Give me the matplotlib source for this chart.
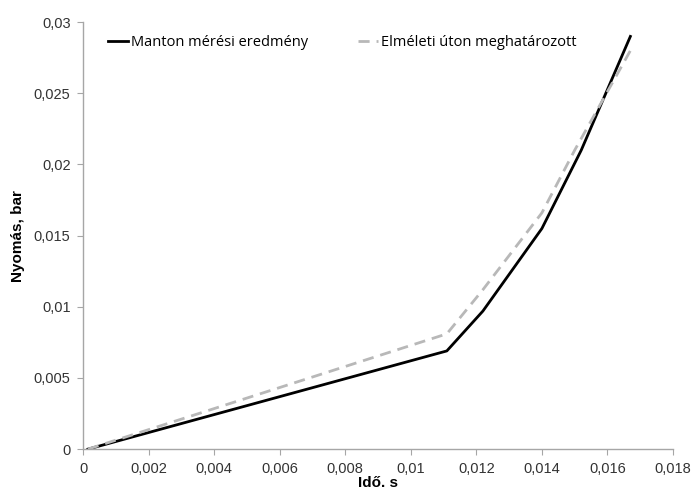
import matplotlib.pyplot as plt
from matplotlib.ticker import FuncFormatter, MultipleLocator

# Measured (Manton) curve
t_meas = [0.00015, 0.0111, 0.0122, 0.0140, 0.0152, 0.0167]
p_meas = [0.0, 0.0069, 0.0097, 0.0155, 0.0210, 0.0290]

# Theoretical curve
t_theo = [0.00015, 0.0111, 0.0122, 0.0140, 0.0150, 0.0167]
p_theo = [0.0, 0.0081, 0.0112, 0.0166, 0.0210, 0.0280]

x_ticks_step = 0.002
y_ticks_step = 0.005

fig = plt.figure(figsize=(6.92, 4.93), dpi=100)
ax = fig.add_axes([0.12, 0.089, 0.8525, 0.866])

ax.plot(t_meas, p_meas, color='black', linewidth=2, label='Manton mérési eredmény')
ax.plot(t_theo, p_theo, color='#b8b8b8', linewidth=2, linestyle=(0, (4, 2.5)),
        label='Elméleti úton meghatározott')

ax.set_xlim(0, 0.018)
ax.set_ylim(0, 0.03)
ax.xaxis.set_major_locator(MultipleLocator(x_ticks_step))
ax.yaxis.set_major_locator(MultipleLocator(y_ticks_step))

fmt = FuncFormatter(lambda v, pos: ('%g' % round(v, 6)).replace('.', ','))
ax.xaxis.set_major_formatter(fmt)
ax.yaxis.set_major_formatter(fmt)

for side in ['top', 'right']:
    ax.spines[side].set_visible(False)
for side in ['left', 'bottom']:
    ax.spines[side].set_color('#a6a6a6')
    ax.spines[side].set_linewidth(1)

ax.tick_params(direction='out', length=4, color='#a6a6a6', labelsize=10.5,
               labelcolor='#333333', pad=5)
for lbl in ax.get_xticklabels() + ax.get_yticklabels():
    lbl.set_family('Liberation Sans')

ax.set_xlabel('Idő. s', fontsize=11, fontweight='bold', family='Liberation Sans', labelpad=0)
ax.set_ylabel('Nyomás, bar', fontsize=11, fontweight='bold', family='Liberation Sans', labelpad=6)

leg = ax.legend(loc='upper left', ncol=2, frameon=False,
                prop={'family': 'Open Sans', 'size': 10.5},
                handlelength=1.4, handletextpad=0.2, columnspacing=3.4,
                bbox_to_anchor=(0.02, 1.0))

fig.savefig('out.png', dpi=100)
